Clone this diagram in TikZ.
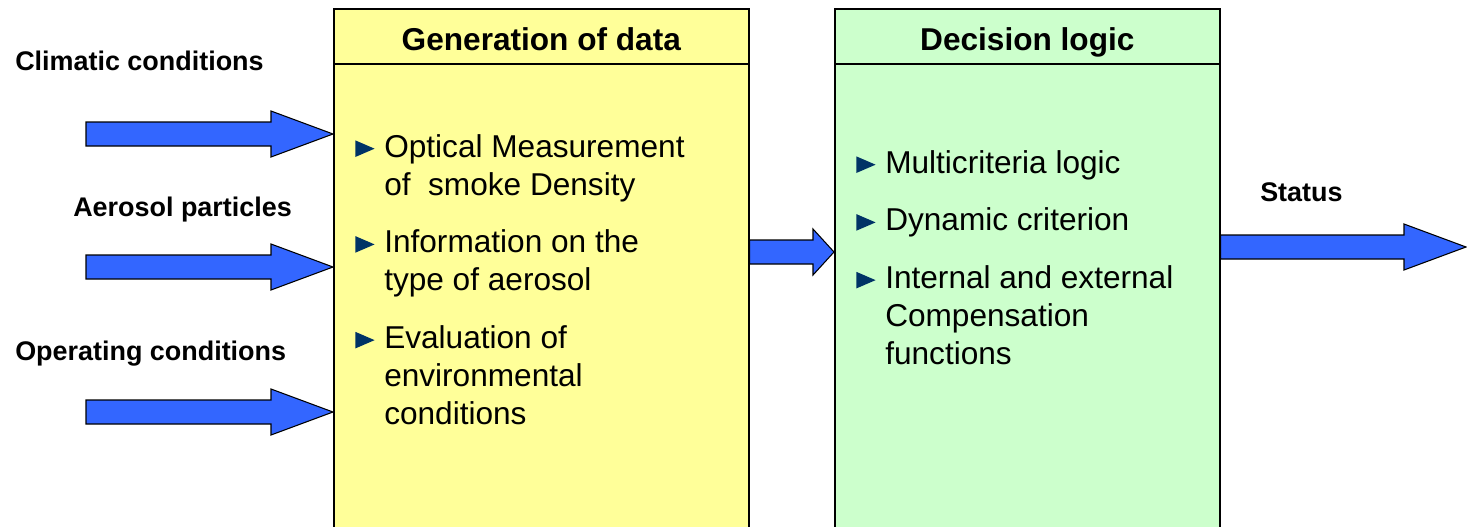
\documentclass[tikz,border=0pt]{standalone}
\usepackage{fontspec}
\setmainfont{Liberation Sans}
\usetikzlibrary{calc}
\definecolor{datayellow}{HTML}{FFFF99}
\definecolor{logicgreen}{HTML}{CCFFCC}
\definecolor{arrowblue}{HTML}{3366FF}
\definecolor{bulletblue}{HTML}{003366}
\newcommand{\bmark}{\tikz[baseline=0pt]\fill[bulletblue] (0pt,0pt) -- (14.5pt,6.25pt) -- (0pt,12.5pt) -- cycle;}
\newcommand{\blockarrow}[3]{%
  \filldraw[fatarrow] ($(#1)+(0,-12)$) -- ($(#2)+(-#3,-12)$) -- ($(#2)+(-#3,-23)$) -- (#2)
    -- ($(#2)+(-#3,23)$) -- ($(#2)+(-#3,12)$) -- ($(#1)+(0,12)$) -- cycle;}

\begin{document}
\begin{tikzpicture}
  [x=0.75pt, y=-0.75pt,
   box/.style={draw, line width=1.2pt, anchor=north west, inner sep=0pt, minimum height=450pt},
   title/.style={font=\fontsize{23.7}{28.5}\selectfont\bfseries, anchor=base},
   inlabel/.style={font=\fontsize{20.2}{24}\selectfont\bfseries, anchor=base west, inner sep=0pt},
   items/.style={font=\fontsize{23.7}{28.5}\selectfont, anchor=base west, inner sep=0pt},
   fatarrow/.style={fill=arrowblue, draw=black, line width=0.8pt, line join=miter}
  ]
  \clip (0,0) rectangle (1467,526);

  \node (gen) [box, fill=datayellow, minimum width=311.25pt] at (333,8) {};
  \node (dec) [box, fill=logicgreen, minimum width=288.75pt] at (834,8) {};
  \draw [line width=1.2pt] ($(gen.north west)+(0,56)$) -- ($(gen.north east)+(0,56)$);
  \draw [line width=1.2pt] ($(dec.north west)+(0,56)$) -- ($(dec.north east)+(0,56)$);
  \node (gentitle) [title] at ($(gen.north)+(0,42)$) {Generation of data};
  \node (dectitle) [title] at ($(dec.north)+(0,42)$) {Decision logic};

  \node (genitems) [items] at (355,157) {\begin{tabular}[t]{@{}p{21.75pt}@{}l@{}}
      \bmark & Optical Measurement\\
             & of\ \ smoke Density\\[14.8pt]
      \bmark & Information on the\\
             & type of aerosol\\[14.8pt]
      \bmark & Evaluation of\\
             & environmental\\
             & conditions
    \end{tabular}};
  \node (decitems) [items] at (856,173) {\begin{tabular}[t]{@{}p{21.75pt}@{}l@{}}
      \bmark & Multicriteria logic\\[14.8pt]
      \bmark & Dynamic criterion\\[14.8pt]
      \bmark & Internal and external\\
             & Compensation\\
             & functions
    \end{tabular}};

  \node (climate) [inlabel] at (15,70) {Climatic conditions};
  \node (aerosol) [inlabel] at (73,216) {Aerosol particles};
  \node (operating) [inlabel] at (15,360) {Operating conditions};
  \node (status) [inlabel] at (1260,201) {Status};

  \coordinate (in1) at (86,134);
  \coordinate (in2) at (86,267);
  \coordinate (in3) at (86,412);
  \coordinate (link) at ($(gen.north east)+(0,244)$);
  \coordinate (out) at (1466,247);

  \blockarrow{in1}{in1 -| gen.west}{62}
  \blockarrow{in2}{in2 -| gen.west}{62}
  \blockarrow{in3}{in3 -| gen.west}{62}
  \blockarrow{link}{link -| dec.west}{21}
  \blockarrow{out -| dec.east}{out}{62}

\end{tikzpicture}
\end{document}
